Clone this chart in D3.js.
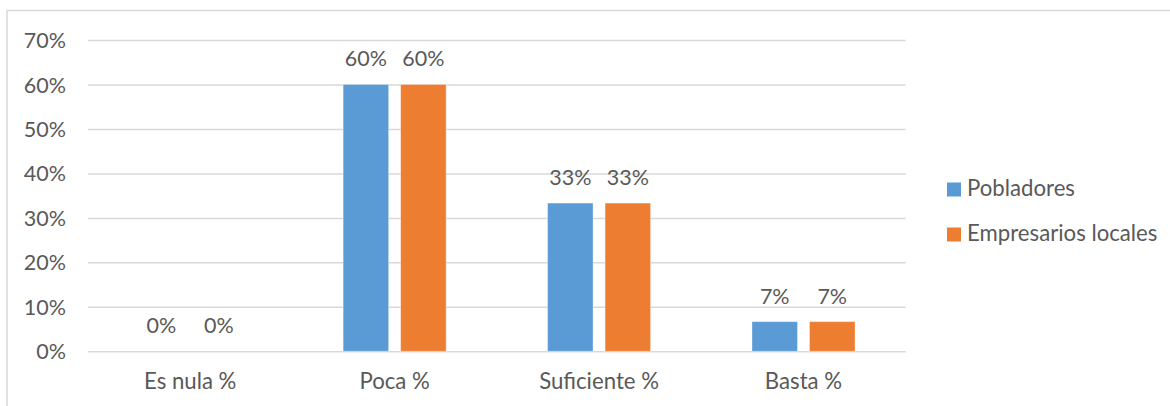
<!DOCTYPE html>
<html><head><meta charset="utf-8">
<script src="https://cdn.jsdelivr.net/npm/d3@7"></script>
<style>body{margin:0;background:#fff}</style></head>
<body><svg id="c" width="1170" height="406"></svg>
<script>
const categories = ["Es nula %", "Poca %", "Suficiente %", "Basta %"];
const seriesNames = ["Pobladores", "Empresarios locales"];
const pobladores = [0, 0.60, 0.3333, 0.0667];
const empresarios = [0, 0.60, 0.3333, 0.0667];
const yTicks = [0, 0.1, 0.2, 0.3, 0.4, 0.5, 0.6, 0.7];
const colors = ["#5b9bd5", "#ed7d31"];

const series = [pobladores, empresarios];
const FONT = "Lato";
const FS = 21.5;
const FS2 = 22.2;
const TXT = "#595959";
const GRID = "#d9d9d9";

const svg = d3.select("#c");

// outer frame
svg.append("rect").attr("x", 7).attr("y", 10.5).attr("width", 1200).attr("height", 420)
  .attr("fill", "none").attr("stroke", GRID).attr("stroke-width", 1.5);

const plot = {left: 88, right: 905.7, top: 40, bottom: 351.3};

const y = d3.scaleLinear().domain([0, 0.7]).range([plot.bottom, plot.top]);
const x0 = d3.scaleBand().domain(categories).range([plot.left, plot.right]).padding(0);
const groupW = 103;
const x1 = d3.scaleBand().domain(seriesNames).range([0, groupW]).paddingInner(0.209).paddingOuter(0);

// gridlines
const yAxis = d3.axisLeft(y).tickValues(yTicks).tickFormat(d3.format(".0%"))
  .tickSize(-(plot.right - plot.left)).tickPadding(22);
const gA = svg.append("g").attr("transform", `translate(${plot.left},0)`).call(yAxis);
gA.select(".domain").remove();
gA.selectAll(".tick line").attr("stroke", GRID).attr("stroke-width", 1.5);
gA.selectAll(".tick text").attr("font-family", FONT).attr("font-size", FS)
  .attr("fill", TXT).attr("dy", "0.35em");

// bars
const groups = svg.append("g").selectAll("g").data(categories).join("g")
  .attr("transform", c => `translate(${x0(c) + (x0.bandwidth() - groupW) / 2},0)`);

groups.each(function(c, i) {
  const g = d3.select(this);
  seriesNames.forEach((s, si) => {
    const v = series[si][i];
    g.append("rect")
      .attr("x", x1(s)).attr("width", x1.bandwidth())
      .attr("y", y(v)).attr("height", y(0) - y(v))
      .attr("fill", colors[si]).attr("stroke", "#ffffff").attr("stroke-opacity", 0.35).attr("stroke-width", 1);
    g.append("text")
      .attr("x", x1(s) + x1.bandwidth() / 2).attr("y", y(v) - 18)
      .attr("text-anchor", "middle").attr("font-family", FONT).attr("font-size", FS)
      .attr("fill", TXT).text(d3.format(".0%")(v));
  });
});

// x axis labels
svg.append("g").selectAll("text").data(categories).join("text")
  .attr("x", c => x0(c) + x0.bandwidth() / 2).attr("y", 389)
  .attr("text-anchor", "middle").attr("font-family", FONT).attr("font-size", FS2)
  .attr("fill", TXT).text(c => c);

// legend
const leg = svg.append("g").selectAll("g").data(seriesNames).join("g")
  .attr("transform", (d, i) => `translate(947,${182.5 + i * 45})`);
leg.append("rect").attr("width", 14).attr("height", 14).attr("fill", (d, i) => colors[i]);
leg.append("text").attr("x", 20).attr("y", 13.3).attr("font-family", FONT).attr("font-size", FS2)
  .attr("fill", TXT).text(d => d);
</script></body></html>
